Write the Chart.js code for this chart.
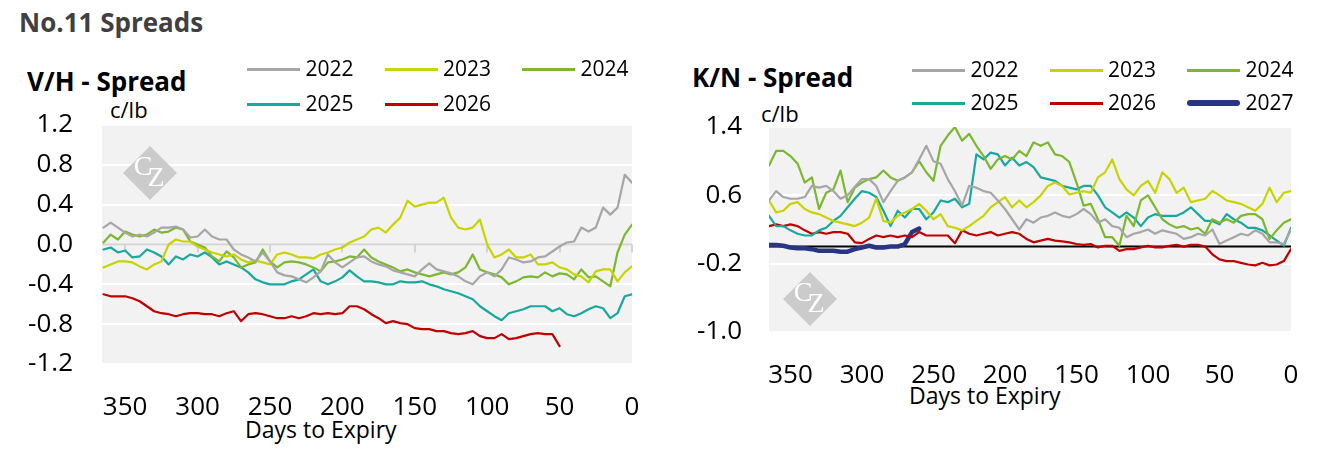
<!DOCTYPE html>
<html>
<head>
<meta charset="utf-8">
<script src="https://cdn.jsdelivr.net/npm/chart.js@4.4.1/dist/chart.umd.min.js"></script>
<style>
  body { margin: 0; width: 1325px; height: 451px; background: #fff; position: relative; overflow: hidden; font-family: 'Open Sans', sans-serif; }
  canvas { position: absolute; top: 0; }
  .txt { position: absolute; white-space: nowrap; line-height: 1; color: #000; }
  .bold { font-weight: 700; font-size: 26px; }
  .unit { font-size: 22px; }
  .axis { font-size: 23px; }
  .leg { font-size: 21px; }
  .legline { position: absolute; width: 53px; height: 3px; }
</style>
</head>
<body>
<div class="txt bold" style="left:19px; top:9px; color:#404040">No.11 Spreads</div>
<div class="txt bold" style="left:27px; top:68px">V/H - Spread</div>
<div class="txt bold" style="left:692px; top:64px">K/N - Spread</div>
<div class="txt unit" style="left:110px; top:98px">c/lb</div>
<div class="txt unit" style="left:761px; top:102px">c/lb</div>
<div class="txt axis" style="left:245px; top:418px">Days to Expiry</div>
<div class="txt axis" style="left:909px; top:384px">Days to Expiry</div>
<canvas id="vhChart" width="660" height="451" style="left:0"></canvas>
<canvas id="knChart" width="665" height="451" style="left:660px"></canvas>
<div id="legends"></div>
<script>
// 天數 (到期日)
const days = [365, 360, 355, 350, 345, 340, 335, 330, 325, 320, 315, 310, 305, 300, 295, 290, 285, 280, 275, 270,
  265, 260, 255, 250, 245, 240, 235, 230, 225, 220, 215, 210, 205, 200, 195, 190, 185, 180, 175, 170,
  165, 160, 155, 150, 145, 140, 135, 130, 125, 120, 115, 110, 105, 100, 95, 90, 85, 80, 75, 70,
  65, 60, 55, 50, 45, 40, 35, 30, 25, 20, 15, 10, 5, 0]
const xTicks = [350, 300, 250, 200, 150, 100, 50, 0]
const vhTicks = [1.2, 0.8, 0.4, 0, -0.4, -0.8, -1.2]
const knTicks = [1.4, 0.6, -0.2, -1.0]
const years = ['2022', '2023', '2024', '2025', '2026', '2027']
const colors = ['#a6a6a6', '#c8d400', '#7cb82f', '#17a89e', '#c00000', '#283583']

// V/H spread
const vh2022 = [0.17, 0.22, 0.17, 0.12, 0.08, 0.10, 0.08, 0.12, 0.17, 0.17, 0.18, 0.15, 0.07, 0.08, 0.15, 0.08, 0.05, 0.05, -0.05, -0.10,
  -0.13, -0.17, -0.08, -0.17, -0.28, -0.31, -0.32, -0.35, -0.38, -0.33, -0.27, -0.10, -0.18, -0.23, -0.18, -0.13, -0.12, -0.17, -0.20, -0.22,
  -0.26, -0.28, -0.30, -0.32, -0.25, -0.19, -0.25, -0.27, -0.29, -0.32, -0.37, -0.40, -0.32, -0.28, -0.32, -0.25, -0.13, -0.15, -0.18, -0.17,
  -0.13, -0.12, -0.07, -0.02, 0.02, 0.03, 0.17, 0.13, 0.17, 0.37, 0.30, 0.37, 0.70, 0.62]
const vh2023 = [-0.23, -0.20, -0.17, -0.17, -0.18, -0.22, -0.25, -0.20, -0.17, 0.00, 0.05, 0.03, 0.03, -0.02, -0.05, -0.08, -0.10, -0.12, -0.10, -0.15,
  -0.18, -0.16, -0.18, -0.20, -0.10, -0.08, -0.10, -0.13, -0.13, -0.14, -0.10, -0.08, -0.05, -0.03, 0.02, 0.05, 0.08, 0.15, 0.17, 0.12,
  0.20, 0.27, 0.44, 0.38, 0.40, 0.42, 0.42, 0.47, 0.27, 0.17, 0.15, 0.17, 0.25, 0.00, -0.13, -0.10, -0.05, -0.13, -0.13, -0.10,
  -0.20, -0.20, -0.18, -0.23, -0.25, -0.30, -0.32, -0.38, -0.27, -0.25, -0.25, -0.37, -0.28, -0.22]
const vh2024 = [0.02, 0.10, 0.05, 0.13, 0.10, 0.08, 0.10, 0.15, 0.12, 0.13, 0.17, 0.15, 0.03, 0.00, -0.03, -0.12, -0.17, -0.07, -0.13, -0.23,
  -0.20, -0.18, -0.05, -0.17, -0.23, -0.18, -0.17, -0.18, -0.20, -0.23, -0.27, -0.18, -0.17, -0.15, -0.12, -0.13, -0.05, -0.13, -0.17, -0.20,
  -0.23, -0.27, -0.25, -0.28, -0.30, -0.32, -0.30, -0.28, -0.30, -0.28, -0.23, -0.10, -0.25, -0.28, -0.30, -0.33, -0.40, -0.37, -0.33, -0.32,
  -0.33, -0.28, -0.32, -0.29, -0.30, -0.35, -0.25, -0.33, -0.32, -0.37, -0.42, -0.08, 0.10, 0.20]
const vh2025 = [-0.05, -0.03, -0.08, -0.06, -0.13, -0.12, -0.05, -0.08, -0.12, -0.20, -0.12, -0.15, -0.10, -0.12, -0.08, -0.13, -0.20, -0.17, -0.20, -0.23,
  -0.28, -0.35, -0.38, -0.40, -0.40, -0.40, -0.37, -0.35, -0.30, -0.25, -0.37, -0.40, -0.37, -0.33, -0.26, -0.32, -0.37, -0.37, -0.38, -0.40,
  -0.40, -0.37, -0.38, -0.38, -0.37, -0.40, -0.42, -0.45, -0.47, -0.49, -0.52, -0.55, -0.62, -0.67, -0.72, -0.76, -0.69, -0.67, -0.65, -0.62,
  -0.62, -0.62, -0.67, -0.64, -0.70, -0.72, -0.69, -0.65, -0.62, -0.64, -0.74, -0.69, -0.52, -0.50]
const vh2026 = [-0.50, -0.52, -0.52, -0.52, -0.54, -0.57, -0.62, -0.67, -0.69, -0.70, -0.72, -0.70, -0.69, -0.69, -0.70, -0.70, -0.72, -0.69, -0.67, -0.77,
  -0.70, -0.69, -0.70, -0.72, -0.74, -0.74, -0.72, -0.74, -0.72, -0.69, -0.70, -0.69, -0.70, -0.69, -0.62, -0.62, -0.65, -0.70, -0.74, -0.79,
  -0.77, -0.79, -0.80, -0.84, -0.85, -0.85, -0.87, -0.87, -0.89, -0.90, -0.89, -0.87, -0.92, -0.94, -0.94, -0.90, -0.95, -0.94, -0.92, -0.90,
  -0.89, -0.90, -0.90, -1.02, null, null, null, null, null, null, null, null, null, null]

// K/N spread
const kn2022 = [0.54, 0.65, 0.58, 0.56, 0.56, 0.58, 0.71, 0.69, 0.71, 0.65, 0.56, 0.60, 0.70, 0.79, 0.79, 0.71, 0.52, 0.65, 0.77, 0.81,
  0.87, 1.02, 1.18, 1.00, 0.97, 0.79, 0.65, 0.48, 0.71, 0.69, 0.65, 0.63, 0.54, 0.44, 0.32, 0.20, 0.32, 0.28, 0.34, 0.36,
  0.40, 0.36, 0.34, 0.38, 0.44, 0.38, 0.28, 0.32, 0.24, 0.22, 0.11, 0.15, 0.17, 0.20, 0.15, 0.19, 0.17, 0.15, 0.09, 0.11,
  0.15, 0.13, 0.20, 0.03, 0.07, 0.11, 0.15, 0.13, 0.19, 0.15, 0.05, 0.05, 0.03, 0.20]
const kn2023 = [0.54, 0.40, 0.42, 0.50, 0.52, 0.44, 0.40, 0.38, 0.34, 0.30, 0.28, 0.26, 0.24, 0.28, 0.34, 0.56, 0.30, 0.28, 0.36, 0.40,
  0.44, 0.50, 0.42, 0.32, 0.38, 0.24, 0.22, 0.19, 0.24, 0.30, 0.36, 0.46, 0.52, 0.58, 0.46, 0.54, 0.46, 0.52, 0.60, 0.71,
  0.75, 0.71, 0.61, 0.63, 0.65, 0.63, 0.81, 0.87, 1.02, 0.79, 0.67, 0.60, 0.71, 0.77, 0.63, 0.87, 0.79, 0.63, 0.69, 0.52,
  0.54, 0.56, 0.65, 0.60, 0.54, 0.52, 0.50, 0.46, 0.42, 0.50, 0.69, 0.52, 0.63, 0.65]
const kn2024 = [0.95, 1.12, 1.12, 1.06, 0.97, 0.75, 0.81, 0.44, 0.63, 0.67, 0.89, 0.52, 0.69, 0.75, 0.79, 0.81, 0.89, 0.81, 0.77, 0.81,
  0.87, 1.00, 0.87, 0.77, 1.18, 1.30, 1.40, 1.24, 1.32, 1.18, 1.06, 0.91, 1.02, 1.06, 1.02, 1.12, 1.06, 1.22, 1.18, 1.22,
  1.08, 1.06, 0.99, 0.75, 0.48, 0.50, 0.32, 0.11, 0.11, 0.01, 0.36, 0.24, 0.54, 0.60, 0.46, 0.32, 0.26, 0.22, 0.24, 0.20,
  0.22, 0.15, 0.32, 0.28, 0.32, 0.28, 0.36, 0.38, 0.38, 0.32, 0.09, 0.19, 0.28, 0.32]
const kn2025 = [0.36, 0.24, 0.24, 0.19, 0.15, 0.13, 0.13, 0.19, 0.22, 0.30, 0.36, 0.46, 0.56, 0.65, 0.63, 0.58, 0.42, 0.24, 0.42, 0.34,
  0.44, 0.44, 0.32, 0.40, 0.54, 0.52, 0.56, 0.46, 0.50, 1.08, 1.02, 1.10, 1.08, 0.95, 1.04, 0.95, 0.99, 0.93, 0.81, 0.79,
  0.77, 0.71, 0.69, 0.67, 0.71, 0.71, 0.60, 0.46, 0.40, 0.34, 0.40, 0.34, 0.24, 0.34, 0.38, 0.36, 0.36, 0.36, 0.40, 0.46,
  0.38, 0.30, 0.30, 0.26, 0.38, 0.32, 0.28, 0.22, 0.22, 0.19, 0.13, 0.07, 0.01, 0.22]
const kn2026 = [0.24, 0.26, 0.24, 0.26, 0.24, 0.19, 0.15, 0.17, 0.15, 0.17, 0.17, 0.15, 0.05, 0.04, 0.09, 0.13, 0.11, 0.13, 0.11, 0.13,
  0.11, 0.17, 0.13, 0.13, 0.13, 0.13, 0.04, 0.19, 0.15, 0.13, 0.15, 0.17, 0.13, 0.15, 0.17, 0.15, 0.09, 0.05, 0.07, 0.09,
  0.07, 0.06, 0.05, 0.03, 0.02, 0.03, -0.01, 0.01, 0.01, -0.05, -0.03, -0.03, -0.01, 0.01, -0.01, -0.01, 0.01, 0.02, 0.00, 0.02,
  0.02, 0.00, -0.09, -0.15, -0.17, -0.17, -0.19, -0.21, -0.22, -0.19, -0.22, -0.21, -0.17, -0.03]
const kn2027 = [0.02, 0.02, 0.01, -0.01, -0.02, -0.02, -0.03, -0.05, -0.05, -0.05, -0.06, -0.06, -0.03, -0.01, 0.01, -0.01, -0.01, 0.00, 0.00, 0.03,
  0.17, 0.21, null, null, null, null, null, null, null, null, null, null, null, null, null, null, null, null, null, null,
  null, null, null, null, null, null, null, null, null, null, null, null, null, null, null, null, null, null, null, null,
  null, null, null, null, null, null, null, null, null, null, null, null, null, null]

// 圖表底色
const plotBg = {
  id: 'plotBg',
  beforeDraw (chart) {
    const { ctx, chartArea: a } = chart
    ctx.save()
    ctx.fillStyle = '#f2f2f2'
    ctx.fillRect(a.left, a.top, a.width, a.height)
    ctx.restore()
  }
}

// 零線 + 浮水印
const zeroLine = {
  id: 'zeroLine',
  beforeDatasetsDraw (chart, args, opts) {
    const { ctx, chartArea: a, scales } = chart
    ctx.save()
    // logo
    const cx = a.left + opts.logo[0]
    const cy = a.top + opts.logo[1]
    const r = 27
    ctx.fillStyle = '#cbcbcb'
    ctx.beginPath()
    ctx.moveTo(cx, cy - r)
    ctx.lineTo(cx + r, cy)
    ctx.lineTo(cx, cy + r)
    ctx.lineTo(cx - r, cy)
    ctx.closePath()
    ctx.fill()
    ctx.fillStyle = '#fff'
    ctx.font = '28px "Liberation Serif"'
    ctx.textAlign = 'center'
    ctx.textBaseline = 'middle'
    ctx.fillText('C', cx - 7, cy - 5)
    ctx.fillText('Z', cx + 6, cy + 6)
    // zero line
    const y = scales.y.getPixelForValue(0)
    ctx.strokeStyle = opts.color
    ctx.lineWidth = 2
    ctx.beginPath()
    ctx.moveTo(a.left, y)
    ctx.lineTo(a.right, y)
    if (opts.ticks) {
      xTicks.forEach((v) => {
        const x = Math.round(scales.x.getPixelForValue(v))
        ctx.moveTo(x, y)
        ctx.lineTo(x, y + 8)
      })
    }
    ctx.stroke()
    ctx.restore()
  }
}

function series (vals) {
  return days.map((d, i) => ({ x: d, y: vals[i] })).filter((p) => p.y !== null)
}

function makeChart (id, sets, yMin, yMax, yTicks, xMax, geo) {
  const ctx = document.getElementById(id)
  return new Chart(ctx, {
    type: 'line',
    data: {
      datasets: sets.map((vals, i) => ({
        label: years[i],
        data: series(vals),
        borderColor: colors[i],
        borderWidth: i === 5 ? 4.5 : 2.2,
        pointRadius: 0,
        tension: 0,
        borderJoinStyle: 'round',
        borderCapStyle: 'round'
      }))
    },
    options: {
      responsive: false,
      animation: false,
      layout: { padding: { top: geo.top, right: geo.right, left: 0, bottom: 0 } },
      plugins: {
        legend: { display: false },
        tooltip: { enabled: false },
        zeroLine: { color: geo.zeroColor, ticks: geo.zeroTicks, logo: geo.logo }
      },
      scales: {
        x: {
          type: 'linear',
          reverse: true,
          min: 0,
          max: xMax,
          afterBuildTicks: (s) => { s.ticks = xTicks.map((v) => ({ value: v })) },
          afterFit: (s) => { s.height = geo.xHeight },
          grid: { display: false },
          border: { display: false },
          ticks: { font: { family: 'Open Sans', size: 26 }, color: '#000', padding: geo.xPad, maxRotation: 0 }
        },
        y: {
          min: yMin,
          max: yMax,
          afterBuildTicks: (s) => { s.ticks = yTicks.map((v) => ({ value: v })) },
          afterFit: (s) => { s.width = geo.yWidth },
          grid: { color: '#ffffff', lineWidth: 2, drawTicks: false },
          border: { display: false },
          ticks: {
            font: { family: 'Open Sans', size: 26 },
            color: '#000',
            padding: geo.yPad,
            callback: (v) => Number(v).toFixed(1)
          }
        }
      }
    },
    plugins: [plotBg, zeroLine]
  })
}

makeChart('vhChart', [vh2022, vh2023, vh2024, vh2025, vh2026], -1.2, 1.2, vhTicks, 366, {
  top: 125, right: 28, xHeight: 87, yWidth: 102, xPad: 20, yPad: 29,
  zeroColor: '#d4d4d4', zeroTicks: true, logo: [48, 48]
})
makeChart('knChart', [kn2022, kn2023, kn2024, kn2025, kn2026, kn2027], -1.0, 1.4, knTicks, 365, {
  top: 127, right: 34, xHeight: 119, yWidth: 109, xPad: 20, yPad: 27,
  zeroColor: '#000000', zeroTicks: false, logo: [41, 172]
})

// 圖例
const legendBox = document.getElementById('legends')
function addLegend (count, lineLeft, rowY) {
  for (let i = 0; i < count; i++) {
    const col = i % 3
    const row = Math.floor(i / 3)
    const x = lineLeft + col * 137.5
    const y = rowY[row]
    const line = document.createElement('div')
    line.className = 'legline'
    line.style.left = x + 'px'
    line.style.top = (y - (i === 5 ? 3 : 1.5)) + 'px'
    line.style.height = (i === 5 ? 6 : 3) + 'px'
    line.style.borderRadius = i === 5 ? '3px' : '0'
    line.style.background = colors[i]
    legendBox.appendChild(line)
    const label = document.createElement('div')
    label.className = 'txt leg'
    label.style.left = (x + 58.5) + 'px'
    label.style.top = (y - 11.5) + 'px'
    label.textContent = years[i]
    legendBox.appendChild(label)
  }
}
addLegend(5, 247, [69.5, 104])
addLegend(6, 912, [70.5, 103])
</script>
</body>
</html>
